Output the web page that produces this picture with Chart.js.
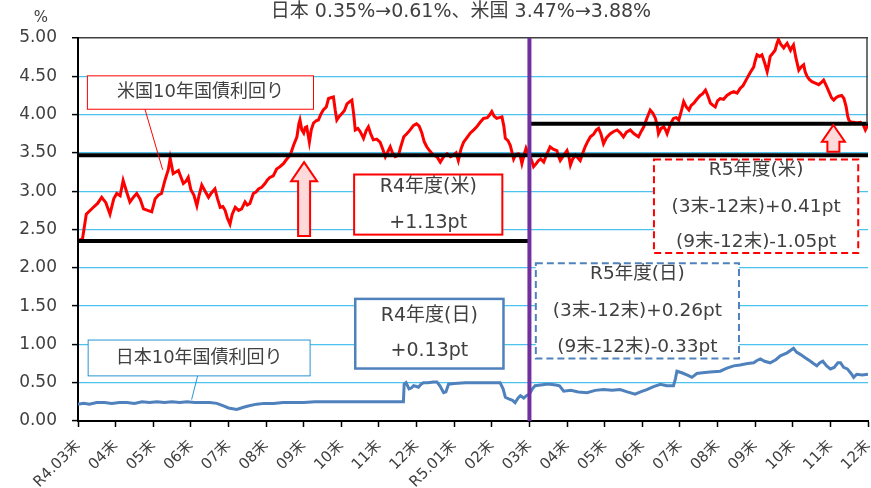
<!DOCTYPE html>
<html>
<head>
<meta charset="utf-8">
<script src="https://cdn.jsdelivr.net/npm/chart.js@4.4.1/dist/chart.umd.min.js"></script>
<style>
  html, body { margin: 0; padding: 0; background: #fff; }
  canvas { display: block; }
</style>
</head>
<body>
<canvas id="yieldChart" width="871" height="488"></canvas>
<script>
// ---- data (x = months since end of Mar R4, y = %) ----
const xLabels = ['R4.03末', '04末', '05末', '06末', '07末', '08末', '09末', '10末', '11末', '12末',
  'R5.01末', '02末', '03末', '04末', '05末', '06末', '07末', '08末', '09末', '10末', '11末', '12末'];

const usX = [0.00, 0.12, 0.22, 0.41, 0.52, 0.63, 0.74, 0.85, 0.95, 1.03, 1.12, 1.20, 1.30, 1.38, 1.47, 1.56, 1.65, 1.74, 1.85, 1.96,
  2.05, 2.14, 2.22, 2.31, 2.40, 2.45, 2.53, 2.60, 2.67, 2.74, 2.80, 2.87, 2.93, 3.00, 3.08, 3.16, 3.22, 3.29, 3.38, 3.47,
  3.55, 3.64, 3.71, 3.78, 3.85, 3.91, 3.97, 4.04, 4.10, 4.18, 4.27, 4.35, 4.44, 4.50, 4.57, 4.66, 4.73, 4.80, 4.88, 4.97,
  5.04, 5.10, 5.19, 5.28, 5.37, 5.46, 5.55, 5.64, 5.73, 5.82, 5.87, 5.90, 5.95, 6.00, 6.04, 6.08, 6.15, 6.20, 6.26, 6.33,
  6.39, 6.45, 6.52, 6.60, 6.66, 6.72, 6.79, 6.84, 6.88, 6.95, 7.01, 7.08, 7.15, 7.22, 7.28, 7.33, 7.37, 7.44, 7.50, 7.59,
  7.66, 7.72, 7.78, 7.85, 7.94, 8.03, 8.10, 8.17, 8.24, 8.30, 8.36, 8.43, 8.52, 8.58, 8.66, 8.74, 8.83, 8.92, 9.00, 9.07,
  9.14, 9.20, 9.27, 9.36, 9.45, 9.54, 9.63, 9.72, 9.81, 9.90, 9.98, 10.05, 10.11, 10.18, 10.25, 10.34, 10.43, 10.52, 10.60, 10.69,
  10.78, 10.88, 10.95, 11.00, 11.06, 11.13, 11.20, 11.27, 11.32, 11.36, 11.43, 11.49, 11.54, 11.58, 11.64, 11.71, 11.76, 11.80, 11.86, 11.91,
  11.96, 12.00, 12.06, 12.11, 12.18, 12.24, 12.30, 12.38, 12.46, 12.55, 12.63, 12.73, 12.78, 12.82, 12.90, 13.00, 13.05, 13.09, 13.15, 13.22,
  13.28, 13.35, 13.42, 13.48, 13.55, 13.62, 13.70, 13.78, 13.84, 13.90, 13.97, 14.05, 14.15, 14.24, 14.33, 14.42, 14.50, 14.58, 14.68, 14.78,
  14.90, 14.97, 15.04, 15.12, 15.21, 15.28, 15.35, 15.40, 15.43, 15.50, 15.57, 15.62, 15.66, 15.75, 15.83, 15.90, 15.97, 16.04, 16.10, 16.17,
  16.24, 16.30, 16.37, 16.45, 16.54, 16.60, 16.68, 16.74, 16.81, 16.88, 16.94, 17.00, 17.07, 17.16, 17.25, 17.34, 17.43, 17.52, 17.60, 17.68,
  17.78, 17.87, 17.96, 18.00, 18.05, 18.12, 18.18, 18.25, 18.32, 18.36, 18.40, 18.47, 18.53, 18.58, 18.62, 18.68, 18.76, 18.80, 18.85, 18.90,
  18.94, 18.98, 19.02, 19.08, 19.16, 19.22, 19.29, 19.33, 19.38, 19.44, 19.51, 19.60, 19.69, 19.76, 19.82, 19.90, 19.96, 20.03, 20.09, 20.15,
  20.22, 20.30, 20.36, 20.42, 20.46, 20.49, 20.55, 20.62, 20.70, 20.80, 20.87, 20.93, 20.97, 21.00];
const usY = [2.35, 2.38, 2.70, 2.79, 2.84, 2.92, 2.85, 2.70, 2.90, 2.97, 2.94, 3.14, 2.98, 2.86, 2.92, 2.97, 2.90, 2.77, 2.75, 2.73,
  2.90, 2.95, 2.97, 3.14, 3.28, 3.43, 3.23, 3.25, 3.27, 3.18, 3.10, 3.13, 3.18, 3.02, 2.95, 2.81, 2.95, 3.08, 3.00, 2.92,
  2.98, 3.03, 2.90, 2.79, 2.80, 2.75, 2.65, 2.57, 2.70, 2.79, 2.75, 2.77, 2.86, 2.82, 2.84, 2.97, 2.99, 3.03, 3.05, 3.10,
  3.15, 3.18, 3.20, 3.29, 3.32, 3.36, 3.42, 3.47, 3.60, 3.71, 3.88, 3.93, 3.80, 3.76, 3.83, 3.84, 3.64, 3.80, 3.89, 3.92,
  3.93, 4.00, 4.06, 4.10, 4.21, 4.22, 4.23, 4.05, 3.93, 3.98, 4.01, 4.05, 4.14, 4.17, 4.19, 4.00, 3.80, 3.82, 3.78, 3.69,
  3.79, 3.84, 3.75, 3.67, 3.68, 3.64, 3.55, 3.45, 3.52, 3.58, 3.50, 3.45, 3.47, 3.58, 3.71, 3.75, 3.80, 3.86, 3.88, 3.85,
  3.76, 3.65, 3.58, 3.52, 3.47, 3.45, 3.38, 3.45, 3.49, 3.45, 3.47, 3.50, 3.40, 3.55, 3.64, 3.70, 3.76, 3.80, 3.84, 3.90,
  3.95, 3.96, 4.00, 4.04, 3.98, 3.95, 3.96, 3.97, 3.85, 3.69, 3.66, 3.60, 3.50, 3.42, 3.48, 3.49, 3.45, 3.36, 3.48, 3.56,
  3.50, 3.47, 3.40, 3.32, 3.36, 3.40, 3.42, 3.38, 3.48, 3.58, 3.55, 3.53, 3.45, 3.40, 3.46, 3.53, 3.45, 3.34, 3.42, 3.47,
  3.44, 3.40, 3.50, 3.58, 3.65, 3.71, 3.74, 3.80, 3.82, 3.75, 3.62, 3.70, 3.75, 3.78, 3.80, 3.76, 3.71, 3.77, 3.80, 3.75,
  3.71, 3.78, 3.84, 3.95, 4.06, 4.02, 3.95, 3.85, 3.75, 3.82, 3.84, 3.80, 3.75, 3.88, 3.95, 3.96, 3.93, 4.05, 4.17, 4.10,
  4.06, 4.12, 4.15, 4.20, 4.25, 4.27, 4.32, 4.25, 4.15, 4.12, 4.10, 4.18, 4.21, 4.20, 4.25, 4.28, 4.30, 4.28, 4.34, 4.38,
  4.47, 4.55, 4.62, 4.70, 4.78, 4.76, 4.78, 4.68, 4.56, 4.65, 4.76, 4.80, 4.84, 4.93, 4.98, 4.92, 4.87, 4.90, 4.93, 4.88,
  4.84, 4.88, 4.91, 4.75, 4.58, 4.62, 4.65, 4.56, 4.50, 4.46, 4.43, 4.41, 4.39, 4.42, 4.45, 4.37, 4.30, 4.22, 4.19, 4.22,
  4.24, 4.25, 4.21, 4.10, 3.98, 3.93, 3.90, 3.90, 3.89, 3.90, 3.87, 3.80, 3.84, 3.88];

const jpX = [0.00, 0.15, 0.30, 0.50, 0.70, 0.90, 1.10, 1.30, 1.50, 1.70, 1.90, 2.10, 2.30, 2.50, 2.70, 2.90, 3.10, 3.30, 3.50, 3.69,
  3.85, 4.00, 4.22, 4.40, 4.55, 4.75, 4.95, 5.20, 5.45, 5.70, 6.00, 6.30, 6.60, 6.90, 7.20, 7.50, 7.80, 8.10, 8.40, 8.65,
  8.67, 8.72, 8.80, 8.86, 8.92, 9.00, 9.05, 9.12, 9.18, 9.30, 9.45, 9.54, 9.62, 9.72, 9.78, 9.85, 10.00, 10.30, 10.60, 10.90,
  11.22, 11.30, 11.36, 11.45, 11.55, 11.62, 11.70, 11.76, 11.85, 11.92, 12.00, 12.08, 12.15, 12.30, 12.45, 12.55, 12.70, 12.80, 12.91, 13.10,
  13.30, 13.53, 13.75, 13.97, 14.20, 14.41, 14.60, 14.81, 14.95, 15.12, 15.30, 15.48, 15.65, 15.83, 15.88, 15.92, 16.05, 16.20, 16.32, 16.45,
  16.60, 16.80, 17.07, 17.25, 17.43, 17.60, 17.80, 17.96, 18.05, 18.14, 18.25, 18.40, 18.55, 18.67, 18.85, 19.02, 19.10, 19.20, 19.32, 19.47,
  19.55, 19.64, 19.72, 19.80, 19.90, 20.00, 20.10, 20.20, 20.27, 20.35, 20.45, 20.55, 20.62, 20.70, 20.85, 21.00];
const jpY = [0.22, 0.23, 0.22, 0.24, 0.24, 0.23, 0.24, 0.24, 0.23, 0.25, 0.24, 0.25, 0.24, 0.25, 0.24, 0.25, 0.24, 0.24, 0.24, 0.23,
  0.20, 0.17, 0.15, 0.18, 0.20, 0.22, 0.23, 0.23, 0.24, 0.24, 0.24, 0.25, 0.25, 0.25, 0.25, 0.25, 0.25, 0.25, 0.25, 0.25,
  0.48, 0.50, 0.42, 0.43, 0.46, 0.45, 0.44, 0.48, 0.50, 0.50, 0.51, 0.51, 0.46, 0.37, 0.38, 0.48, 0.49, 0.50, 0.50, 0.50,
  0.50, 0.42, 0.31, 0.29, 0.27, 0.24, 0.30, 0.33, 0.30, 0.33, 0.35, 0.42, 0.46, 0.47, 0.48, 0.48, 0.47, 0.46, 0.39, 0.40,
  0.38, 0.37, 0.40, 0.41, 0.40, 0.41, 0.38, 0.35, 0.38, 0.41, 0.45, 0.48, 0.46, 0.46, 0.55, 0.65, 0.63, 0.60, 0.57, 0.62,
  0.63, 0.64, 0.65, 0.69, 0.72, 0.73, 0.75, 0.76, 0.79, 0.81, 0.78, 0.76, 0.80, 0.85, 0.89, 0.95, 0.90, 0.87, 0.83, 0.78,
  0.75, 0.72, 0.76, 0.78, 0.72, 0.68, 0.70, 0.76, 0.76, 0.70, 0.68, 0.62, 0.57, 0.61, 0.60, 0.61];

// reference levels (US yield at 3末 R4, 3末 R5, 12末 R5) and where they run
const refLevels = [2.35, 3.47, 3.88];
const refFrom = [0, 0, 12];
const refTo = [12, 21, 21];
const fyBoundary = 12;

// ---- annotations (data coordinates) ----
const FONT = "'DejaVu Sans', 'Noto Sans CJK JP', sans-serif";
const TEXT = '#404040';

const noteBoxes = [
  { x0: 0.25, x1: 6.26, y0: 4.506, y1: 4.07, color: '#ff0000', lw: 1, dash: [], size: 18,
    lines: ['米国10年国債利回り'], ys: [4.285] },
  { x0: 0.27, x1: 6.17, y0: 1.057, y1: 0.589, color: '#2a93d5', lw: 1, dash: [], size: 18,
    lines: ['日本10年国債利回り'], ys: [0.82] },
  { x0: 7.34, x1: 11.28, y0: 3.218, y1: 2.433, color: '#ff0000', lw: 2, dash: [], size: 19,
    lines: ['R4年度(米)', '+1.13pt'], ys: [3.05, 2.58] },
  { x0: 7.37, x1: 11.31, y0: 1.594, y1: 0.685, color: '#4f81bd', lw: 2.5, dash: [], size: 19,
    lines: ['R4年度(日)', '+0.13pt'], ys: [1.375, 0.917] },
  { x0: 15.31, x1: 20.74, y0: 3.415, y1: 2.192, color: '#ff0000', lw: 2, dash: [7, 4], size: 18.5,
    lines: ['R5年度(米)', '(3末-12末)+0.41pt', '(9末-12末)-1.05pt'], ys: [3.275, 2.79, 2.335] },
  { x0: 12.17, x1: 17.57, y0: 2.06, y1: 0.816, color: '#4f81bd', lw: 2, dash: [7, 4], size: 18.5,
    lines: ['R5年度(日)', '(3末-12末)+0.26pt', '(9末-12末)-0.33pt'], ys: [1.92, 1.44, 0.96] }
];

const leaders = [
  { x0: 1.78, y0: 4.07, x1: 2.25, y1: 3.28, color: '#ff0000' },
  { x0: 3.18, y0: 0.589, x1: 3.02, y1: 0.28, color: '#2a93d5' }
];

const arrows = [
  { x: 6.01, tip: 3.38, head: 3.13, bottom: 2.414, headHalf: 13, bodyHalf: 6 },
  { x: 20.08, tip: 3.864, head: 3.646, bottom: 3.515, headHalf: 11.5, bodyHalf: 6 }
];

function pts(xs, ys) {
  return xs.map((x, i) => ({ x: x, y: ys[i] }));
}

const annotationPlugin = {
  id: 'notes',
  afterDatasetsDraw(chart) {
    const c = chart.ctx;
    const xs = chart.scales.x;
    const ys = chart.scales.y;
    const area = chart.chartArea;
    c.save();

    // partial right border
    c.strokeStyle = '#404040';
    c.lineWidth = 1.5;
    c.beginPath();
    c.moveTo(xs.getPixelForValue(21) - 1, ys.getPixelForValue(5));
    c.lineTo(xs.getPixelForValue(21) - 1, ys.getPixelForValue(3.88));
    c.stroke();

    // leader lines
    leaders.forEach(l => {
      c.strokeStyle = l.color;
      c.lineWidth = 1;
      c.beginPath();
      c.moveTo(xs.getPixelForValue(l.x0), ys.getPixelForValue(l.y0));
      c.lineTo(xs.getPixelForValue(l.x1), ys.getPixelForValue(l.y1));
      c.stroke();
    });

    // block arrows
    arrows.forEach(a => {
      const cx = xs.getPixelForValue(a.x);
      const tip = ys.getPixelForValue(a.tip);
      const hb = ys.getPixelForValue(a.head);
      const bt = ys.getPixelForValue(a.bottom);
      c.beginPath();
      c.moveTo(cx, tip);
      c.lineTo(cx + a.headHalf, hb);
      c.lineTo(cx + a.bodyHalf, hb);
      c.lineTo(cx + a.bodyHalf, bt);
      c.lineTo(cx - a.bodyHalf, bt);
      c.lineTo(cx - a.bodyHalf, hb);
      c.lineTo(cx - a.headHalf, hb);
      c.closePath();
      c.fillStyle = '#fdd9d9';
      c.fill();
      c.strokeStyle = '#ff0000';
      c.lineWidth = 2;
      c.stroke();
    });

    // text boxes
    noteBoxes.forEach(b => {
      const l = xs.getPixelForValue(b.x0);
      const r = xs.getPixelForValue(b.x1);
      const t = ys.getPixelForValue(b.y0);
      const btm = ys.getPixelForValue(b.y1);
      c.fillStyle = '#ffffff';
      c.fillRect(l, t, r - l, btm - t);
      c.setLineDash(b.dash);
      c.strokeStyle = b.color;
      c.lineWidth = b.lw;
      c.strokeRect(l, t, r - l, btm - t);
      c.setLineDash([]);
      c.fillStyle = TEXT;
      c.font = b.size + 'px ' + FONT;
      c.textAlign = 'center';
      c.textBaseline = 'middle';
      b.lines.forEach((txt, i) => {
        c.fillText(txt, (l + r) / 2, ys.getPixelForValue(b.ys[i]));
      });
    });

    // title and unit
    c.fillStyle = TEXT;
    c.textBaseline = 'middle';
    c.textAlign = 'center';
    c.font = '19px ' + FONT;
    c.fillText('日本 0.35%→0.61%、米国 3.47%→3.88%', (area.left + area.right) / 2 - 12, 12);
    c.font = '15px ' + FONT;
    c.fillText('%', area.left - 37, 18);
    c.restore();
  }
};

const refDatasets = refLevels.map((v, i) => ({
  data: [{ x: refFrom[i], y: v }, { x: refTo[i], y: v }],
  borderColor: '#000000',
  borderWidth: 4,
  pointRadius: 0
}));

new Chart(document.getElementById('yieldChart'), {
  type: 'line',
  data: {
    datasets: [
      {
        data: [{ x: fyBoundary, y: 0 }, { x: fyBoundary, y: 5 }],
        borderColor: '#7030a0',
        borderWidth: 4,
        pointRadius: 0
      },
      ...refDatasets,
      {
        label: '米国10年国債利回り',
        data: pts(usX, usY),
        borderColor: '#ff0000',
        borderWidth: 3,
        pointRadius: 0,
        tension: 0
      },
      {
        label: '日本10年国債利回り',
        data: pts(jpX, jpY),
        borderColor: '#4f81bd',
        borderWidth: 3,
        pointRadius: 0,
        tension: 0
      }
    ]
  },
  options: {
    responsive: false,
    animation: false,
    devicePixelRatio: 1,
    layout: { padding: { top: 38, right: 3, left: 0, bottom: 0 } },
    plugins: {
      legend: { display: false },
      tooltip: { enabled: false },
      title: { display: false }
    },
    scales: {
      x: {
        type: 'linear',
        min: 0,
        max: 21,
        afterFit: (s) => { s.height = 67; s.paddingLeft = 0; s.paddingRight = 0; },
        border: { color: '#000000', width: 2 },
        grid: { drawOnChartArea: false, tickLength: 6, tickColor: '#000000', tickWidth: 1.5 },
        ticks: {
          stepSize: 1,
          autoSkip: false,
          maxRotation: 45,
          minRotation: 45,
          padding: 10,
          color: TEXT,
          font: { family: FONT, size: 15 },
          callback: (v) => xLabels[v]
        }
      },
      y: {
        min: 0,
        max: 5,
        afterFit: (s) => { s.width = 78; s.paddingTop = 0; s.paddingBottom = 0; },
        border: { color: '#000000', width: 2 },
        grid: {
          color: (ctx) => ctx.tick && ctx.tick.value === 5 ? '#404040' : (ctx.tick && ctx.tick.value === 0 ? 'rgba(0,0,0,0)' : '#4cc3ee'),
          lineWidth: (ctx) => ctx.tick && ctx.tick.value === 5 ? 1.5 : 1.2,
          tickLength: 6,
          tickColor: '#000000',
          tickWidth: 1.5
        },
        ticks: {
          stepSize: 0.5,
          padding: 15,
          color: TEXT,
          font: { family: FONT, size: 17 },
          callback: (v) => v.toFixed(2)
        }
      }
    }
  },
  plugins: [annotationPlugin]
});
</script>
</body>
</html>
